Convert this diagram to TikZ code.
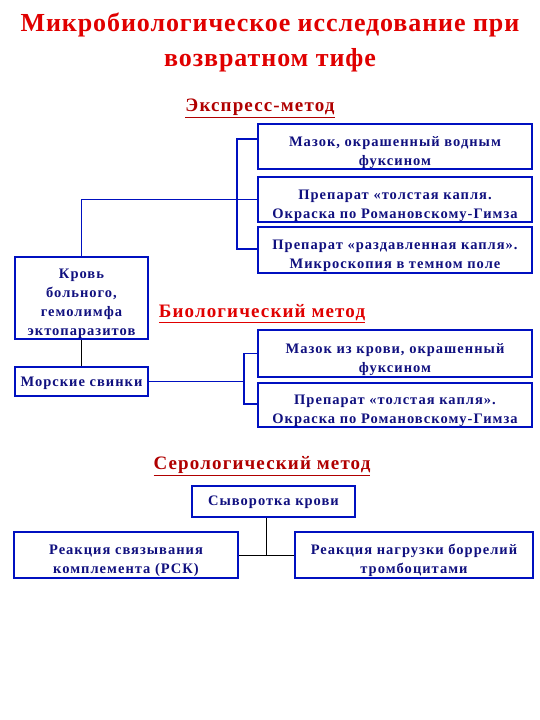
\documentclass[tikz,border=0pt]{standalone}
\usepackage{fontspec}
\setmainfont{Liberation Serif}
\newfontfamily\boxfont[LetterSpace=7]{Liberation Serif}
\newfontfamily\headfont[LetterSpace=6]{Liberation Serif}
\newfontfamily\titlefont[LetterSpace=3.5]{Liberation Serif}
\newcommand{\myup}{\rule{0pt}{22pt}}
\newcommand{\myone}{\rule{0pt}{13pt}}
\definecolor{titlered}{HTML}{E00000}
\definecolor{darkred}{HTML}{B00000}
\definecolor{boxblue}{HTML}{0010C0}
\definecolor{navytext}{HTML}{10107F}
\begin{document}
\begin{tikzpicture}[x=1pt,y=-1pt,
  box/.style={draw=boxblue, line width=2pt, fill=white, align=center, text=navytext,
    font=\boxfont\bfseries\fontsize{14.5}{19}\selectfont, inner sep=0pt},
  bconn/.style={draw=boxblue, line width=1.8pt},
  kconn/.style={draw=black, line width=1pt},
  heading/.style={font=\headfont\bfseries\fontsize{19}{22}\selectfont, inner sep=0pt}]
\useasboundingbox[fill=white] (0,0) rectangle (540,720);
% title
\node[align=center, text=titlered, font=\titlefont\bfseries\fontsize{26}{35}\selectfont] (title) at (270,42)
  {Микробиологическое исследование при\\возвратном тифе};
% headings
\node[heading, text=darkred] (hexp) at (260,108) {\underline{Экспресс-метод}};
\node[heading, text=titlered] (hbio) at (262,314) {\underline{Биологический метод}};
\node[heading, text=darkred] (hser) at (262,466) {\underline{Серологический метод}};
% express boxes
\node[box, minimum width=274pt, minimum height=45pt] (e1) at (395,146.5)
  {\myup Мазок, окрашенный водным\\фуксином};
\node[box, minimum width=274pt, minimum height=45pt] (e2) at (395,199.5)
  {\myup Препарат «толстая капля.\\Окраска по Романовскому-Гимза};
\node[box, minimum width=274pt, minimum height=46pt] (e3) at (395,250)
  {\myup Препарат «раздавленная капля».\\Микроскопия в темном поле};
% left column
\node[box, minimum width=133pt, minimum height=82pt] (blood) at (81.5,298)
  {\myup Кровь\\больного,\\гемолимфа\\эктопаразитов};
\node[box, minimum width=133pt, minimum height=29pt] (guinea) at (81.5,381.5)
  {\myone Морские свинки};
% biological boxes
\node[box, minimum width=274pt, minimum height=47pt] (b1) at (395,353.5)
  {\myup Мазок из крови, окрашенный\\фуксином};
\node[box, minimum width=274pt, minimum height=44pt] (b2) at (395,405)
  {\myup Препарат «толстая капля».\\Окраска по Романовскому-Гимза};
% serological boxes
\node[box, minimum width=163pt, minimum height=31pt] (serum) at (273.5,501)
  {\myone Сыворотка крови};
\node[box, minimum width=224pt, minimum height=46pt] (rsk) at (126,555)
  {\myup Реакция связывания\\комплемента (РСК)};
\node[box, minimum width=238pt, minimum height=46pt] (rnb) at (414,555)
  {\myup Реакция нагрузки боррелий\\тромбоцитами};
% connectors
\coordinate (ex) at (237,199.5);
\coordinate (bx) at (244,381.5);
\coordinate (sx) at (266,555);
\draw[bconn] (blood.north) |- (e2.west);
\draw[bconn] ([yshift=7.5pt]e1.west) -| (ex) |- ([yshift=1pt]e3.west);
\draw[kconn] (blood) -- (guinea);
\draw[bconn] (guinea.east) -- (bx);
\draw[bconn] (b1.west) -| (bx) |- ([yshift=1pt]b2.west);
\draw[kconn] (rsk) -- (rnb);
\draw[kconn] (serum.south -| sx) -- (sx);
\end{tikzpicture}
\end{document}
